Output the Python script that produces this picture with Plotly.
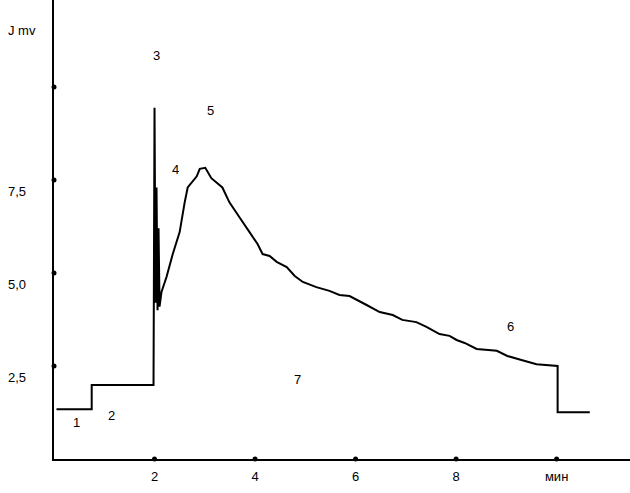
import plotly.graph_objects as go

# recorded trace: time (min) and signal (mV)
t = [0.05, 0.75, 0.75, 1.98, 2.0, 2.02, 2.04, 2.06, 2.08, 2.10, 2.14, 2.24, 2.36, 2.50,
     2.60, 2.66, 2.84, 2.90, 3.01, 3.13, 3.35, 3.49, 3.69, 3.85, 3.89, 4.05, 4.15,
     4.29, 4.43, 4.63, 4.79, 4.95, 5.22, 5.48, 5.68, 5.88, 6.08, 6.22, 6.48, 6.74,
     6.93, 7.21, 7.41, 7.67, 7.87, 8.01, 8.17, 8.41, 8.81, 9.02, 9.30, 9.60, 10.02,
     10.02, 10.66]
mv = [1.34, 1.34, 1.99, 1.99, 9.44, 4.2, 7.3, 4.0, 6.2, 4.1, 4.5, 4.9, 5.5, 6.1,
      6.9, 7.3, 7.6, 7.8, 7.83, 7.55, 7.3, 6.9, 6.5, 6.15, 6.1, 5.78, 5.51,
      5.46, 5.30, 5.16, 4.92, 4.76, 4.62, 4.52, 4.41, 4.38, 4.25, 4.14, 3.95, 3.87,
      3.74, 3.68, 3.55, 3.36, 3.31, 3.20, 3.12, 2.96, 2.91, 2.77, 2.66, 2.55, 2.5,
      1.26, 1.26]

x_ticks = [2, 4, 6, 8, 10]
x_labels = ["2", "4", "6", "8", "мин"]
y_ticks = [2.5, 5.0, 7.5, 10.0]
y_labels = ["2,5", "5,0", "7,5", ""]

# numbered marks on the curve
mark_text = ["1", "2", "3", "4", "5", "6", "7"]
mark_t = [0.45, 1.14, 2.04, 2.42, 3.11, 9.08, 4.85]
mark_v = [0.97, 1.18, 10.86, 7.77, 9.36, 3.55, 2.15]

font = dict(family="Liberation Sans, Arial", size=13, color="black")

fig = go.Figure()
fig.add_trace(go.Scatter(x=t, y=mv, mode="lines",
                         line=dict(color="black", width=2), hoverinfo="skip"))
# tick dots on the axes
fig.add_trace(go.Scatter(x=x_ticks, y=[0] * len(x_ticks), mode="markers",
                         marker=dict(color="black", size=5), cliponaxis=False,
                         hoverinfo="skip"))
fig.add_trace(go.Scatter(x=[0] * len(y_ticks), y=y_ticks, mode="markers",
                         marker=dict(color="black", size=5), cliponaxis=False,
                         hoverinfo="skip"))

for s, x, y in zip(mark_text, mark_t, mark_v):
    fig.add_annotation(x=x, y=y, text=s, showarrow=False, font=font)

for s, y in zip(y_labels, y_ticks):
    if s:
        fig.add_annotation(xref="paper", x=0, y=y, text=s, showarrow=False, font=font,
                           xanchor="right", xshift=-26, yshift=-11)

fig.add_annotation(xref="paper", x=0, y=11.53, text="J mv", showarrow=False, font=font,
                   xanchor="right", xshift=-16)

fig.update_layout(
    width=630, height=493,
    margin=dict(l=54, r=0, t=0, b=34),
    paper_bgcolor="white", plot_bgcolor="white",
    showlegend=False, font=font,
    xaxis=dict(range=[0, 11.46], showgrid=False, zeroline=False,
               showline=True, linecolor="black", linewidth=2,
               tickvals=x_ticks, ticktext=x_labels, ticks="",
               ticklabelstandoff=4),
    yaxis=dict(range=[0, 12.34], showgrid=False, zeroline=False,
               showline=True, linecolor="black", linewidth=2,
               showticklabels=False, ticks=""),
)

fig.write_html("out.html", config={"displayModeBar": False},
               post_script="document.body.style.margin='0';document.body.style.overflow='hidden';")
